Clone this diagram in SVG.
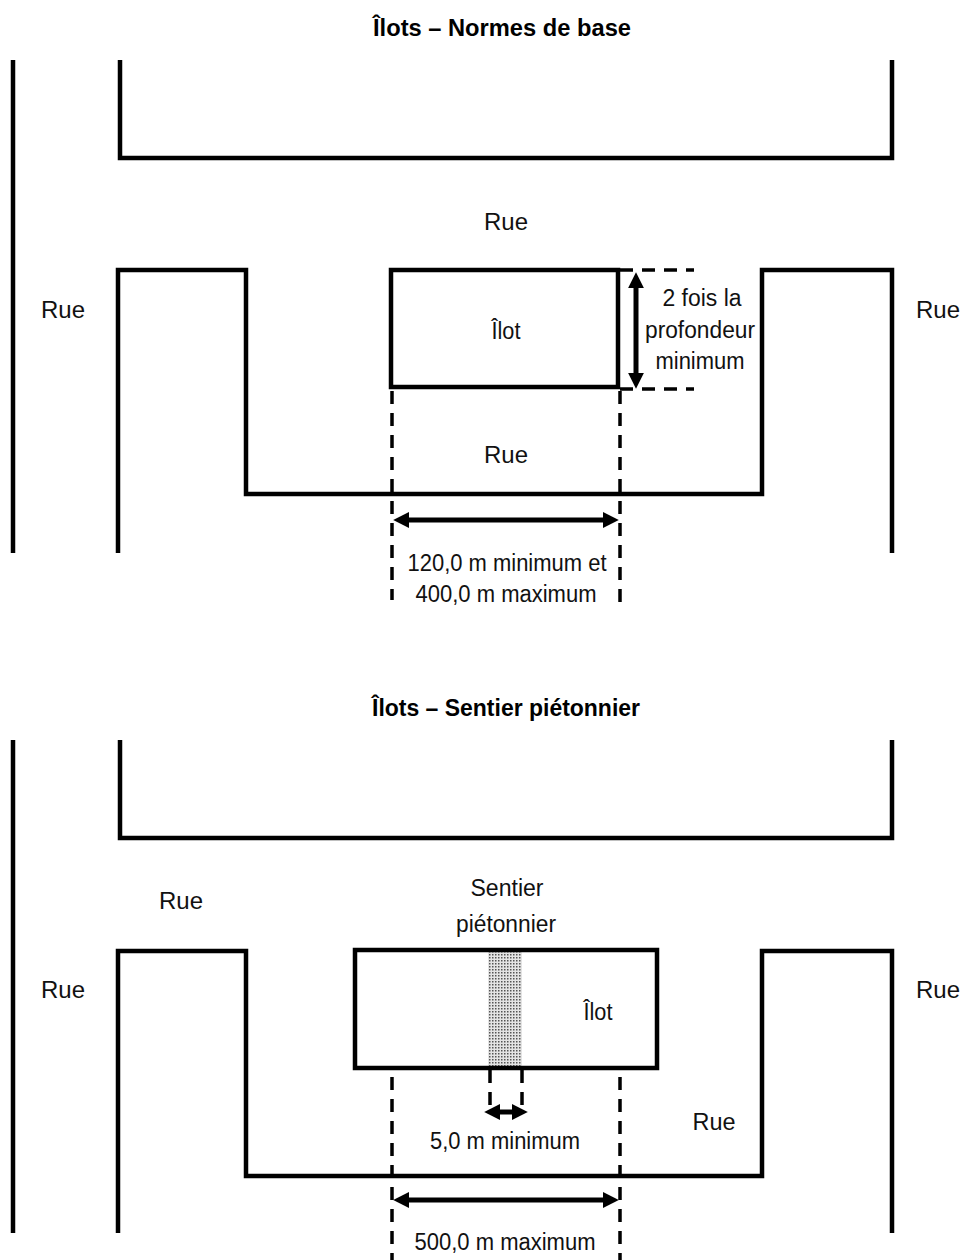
<svg xmlns="http://www.w3.org/2000/svg" width="975" height="1260" viewBox="0 0 975 1260">
<style>
.w{fill:none;stroke:#000;stroke-width:4.5;stroke-linejoin:miter;stroke-linecap:butt}
.d{fill:none;stroke:#000;stroke-width:3.5;stroke-dasharray:13 9}
.a{fill:none;stroke:#000;stroke-width:5}
.t{font-family:"Liberation Sans Narrow","Liberation Sans",Arial,sans-serif;font-size:23.5px;fill:#111;text-anchor:middle}
.h{font-family:"Liberation Sans Narrow","Liberation Sans",Arial,sans-serif;font-size:23px;font-weight:bold;fill:#000;text-anchor:middle}
</style>
<defs>
<marker id="ah" viewBox="0 0 10 10" refX="2" refY="5" markerWidth="3.2" markerHeight="3.2" orient="auto-start-reverse" markerUnits="strokeWidth">
<path d="M0 0 L10 5 L0 10 z" fill="#000"/>
</marker>
<pattern id="dots" width="3" height="3" patternUnits="userSpaceOnUse">
<rect width="3" height="3" fill="#e4e4e4"/>
<rect x="0" y="0" width="1.5" height="1.5" fill="#555"/>
</pattern>
</defs>

<text class="h" x="502" y="36" textLength="258" lengthAdjust="spacingAndGlyphs">Îlots – Normes de base</text>
<text class="h" x="506" y="716" textLength="268" lengthAdjust="spacingAndGlyphs">Îlots – Sentier piétonnier</text>

<g id="diagram1">
<g id="streets1">
<path class="w" d="M13 60 V553"/>
<path class="w" d="M120 60 V158 H892 V60"/>
<path class="w" d="M118 553 V270 H246 V494 H762 V270 H892 V553"/>
</g>
<g id="ilot1">
<rect class="w" x="391" y="270" width="227" height="117"/>
<text class="t" x="506" y="339" textLength="29" lengthAdjust="spacingAndGlyphs">Îlot</text>
</g>
<g id="labels1">
<text class="t" x="506" y="230" textLength="44" lengthAdjust="spacingAndGlyphs">Rue</text>
<text class="t" x="63" y="318" textLength="44" lengthAdjust="spacingAndGlyphs">Rue</text>
<text class="t" x="938" y="318" textLength="44" lengthAdjust="spacingAndGlyphs">Rue</text>
<text class="t" x="506" y="463" textLength="44" lengthAdjust="spacingAndGlyphs">Rue</text>
<text class="t" x="702" y="306" textLength="79" lengthAdjust="spacingAndGlyphs">2 fois la</text>
<text class="t" x="700" y="338" textLength="110" lengthAdjust="spacingAndGlyphs">profondeur</text>
<text class="t" x="700" y="369" textLength="89" lengthAdjust="spacingAndGlyphs">minimum</text>
<text class="t" x="507" y="571" textLength="199" lengthAdjust="spacingAndGlyphs">120,0 m minimum et</text>
<text class="t" x="506" y="602" textLength="181" lengthAdjust="spacingAndGlyphs">400,0 m maximum</text>
</g>
<g id="connectors1">
<path class="d" d="M620 270 H694"/>
<path class="d" d="M620 389 H694"/>
<path class="d" d="M392 391 V600"/>
<path class="d" d="M620 391 V606"/>
<path class="a" d="M636 285 V376" marker-start="url(#ah)" marker-end="url(#ah)"/>
<path class="a" d="M406 520 H606" marker-start="url(#ah)" marker-end="url(#ah)"/>
</g>
</g>

<g id="diagram2">
<g id="streets2">
<path class="w" d="M13 740 V1233"/>
<path class="w" d="M120 740 V838 H892 V740"/>
<path class="w" d="M118 1233 V951 H246 V1176 H762 V951 H892 V1233"/>
</g>
<g id="ilot2">
<rect x="488" y="952" width="34" height="116" fill="url(#dots)"/>
<rect class="w" x="355" y="950" width="302" height="118"/>
<text class="t" x="598" y="1020" textLength="29" lengthAdjust="spacingAndGlyphs">Îlot</text>
</g>
<g id="labels2">
<text class="t" x="181" y="909" textLength="44" lengthAdjust="spacingAndGlyphs">Rue</text>
<text class="t" x="507" y="896" textLength="73" lengthAdjust="spacingAndGlyphs">Sentier</text>
<text class="t" x="506" y="932" textLength="100" lengthAdjust="spacingAndGlyphs">piétonnier</text>
<text class="t" x="63" y="998" textLength="44" lengthAdjust="spacingAndGlyphs">Rue</text>
<text class="t" x="938" y="998" textLength="44" lengthAdjust="spacingAndGlyphs">Rue</text>
<text class="t" x="714" y="1130" textLength="43" lengthAdjust="spacingAndGlyphs">Rue</text>
<text class="t" x="505" y="1149" textLength="150" lengthAdjust="spacingAndGlyphs">5,0 m minimum</text>
<text class="t" x="505" y="1250" textLength="181" lengthAdjust="spacingAndGlyphs">500,0 m maximum</text>
</g>
<g id="connectors2">
<path class="d" d="M490 1070 V1105"/>
<path class="d" d="M522 1070 V1105"/>
<path class="d" d="M392 1077 V1260"/>
<path class="d" d="M620 1077 V1260"/>
<path class="a" d="M497 1112 H515" stroke-width="4" marker-start="url(#ah)" marker-end="url(#ah)"/>
<path class="a" d="M406 1200 H606" marker-start="url(#ah)" marker-end="url(#ah)"/>
</g>
</g>
</svg>
